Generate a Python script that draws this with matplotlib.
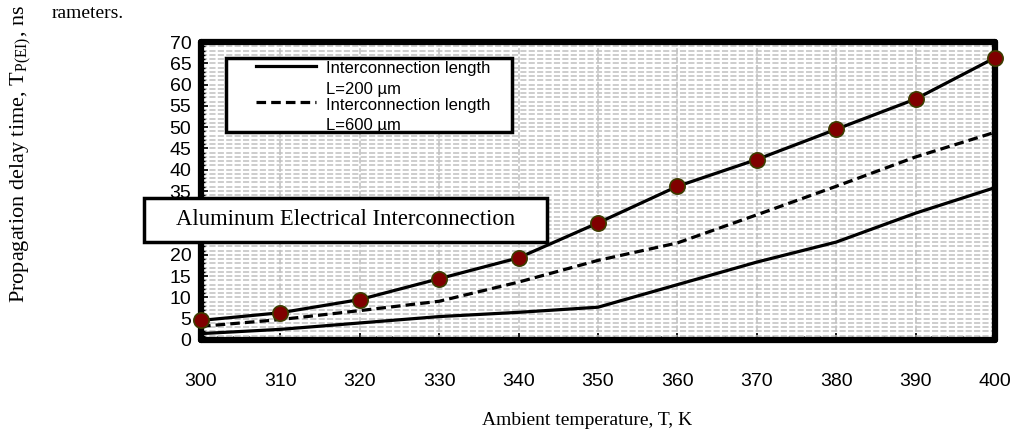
import numpy as np
import matplotlib.pyplot as plt
from matplotlib.ticker import MultipleLocator
from matplotlib.patches import Rectangle
from matplotlib.legend_handler import HandlerLine2D

# temperatures (K) and delay times (ns)
temp = [300, 310, 320, 330, 340, 350, 360, 370, 380, 390, 400]
t_200 = [1.5, 2.5, 4.0, 5.5, 6.5, 7.7, 13.0, 18.3, 23.0, 29.8, 35.8]
t_600 = [3.2, 4.8, 6.9, 9.1, 13.6, 18.7, 22.8, 29.4, 36.1, 43.0, 48.8]
t_ref = [4.6, 6.4, 9.5, 14.4, 19.3, 27.5, 36.1, 42.4, 49.5, 56.6, 66.3]
hidden_yticks = [25, 30]  # sit under the text box in the original

plt.rcParams['font.family'] = ['Liberation Sans', 'DejaVu Sans']
plt.rcParams['mathtext.fontset'] = 'stix'
serif = ['Liberation Serif', 'DejaVu Serif']


class HandlerUp(HandlerLine2D):
    # legend line sits level with the first text line, not centred
    def create_artists(self, legend, orig_handle, xdescent, ydescent,
                       width, height, fontsize, trans):
        return super().create_artists(legend, orig_handle, xdescent, ydescent - 19,
                                      width, height, fontsize, trans)


fig = plt.figure(figsize=(10.13, 4.34), dpi=100)
ax = fig.add_axes([0.1984, 0.2166, 0.7838, 0.6866])

ax.set_xlim(300, 400)
ax.set_ylim(0, 70)
ax.xaxis.set_major_locator(MultipleLocator(10))
ax.xaxis.set_minor_locator(MultipleLocator(2))
ax.yaxis.set_major_locator(MultipleLocator(5))
ax.yaxis.set_minor_locator(MultipleLocator(1))
ax.yaxis.set_major_formatter(lambda v, pos: '' if v in hidden_yticks else f'{v:g}')

gstyle = dict(color='#c0c0c0', ls=(0, (4, 1.5)), lw=1.1)
ax.grid(True, which='minor', axis='y', **gstyle)
ax.grid(True, which='major', axis='y', **gstyle)
ax.grid(True, which='major', axis='x', **gstyle)
ax.set_axisbelow(True)

for s in ax.spines.values():
    s.set_linewidth(4.5)
    s.set_capstyle('round')

ax.tick_params(which='both', direction='in', top=False, right=False)
ax.tick_params(which='major', length=5, width=1.2)
ax.tick_params(which='minor', length=3, width=1.0)
ax.tick_params(axis='x', which='major', pad=24, labelsize=14)
ax.tick_params(axis='y', which='major', pad=7, labelsize=14)

l1, = ax.plot(temp, t_200, color='black', lw=2.3, label='Interconnection length\nL=200 \u00b5m')
l2, = ax.plot(temp, t_600, color='black', lw=2.3, ls=(0, (3, 1.6)),
              label='Interconnection length\nL=600 \u00b5m')
ax.plot(temp, t_ref, color='black', lw=2.3, marker='o', ms=11,
        markerfacecolor='#800000', markeredgecolor='#3d3d00', markeredgewidth=1.2,
        clip_on=False, zorder=5)

# legend frame drawn separately so the padding can be uneven
ax.add_patch(Rectangle((0.0315, 0.698), 0.360, 0.248, transform=ax.transAxes,
                       facecolor='white', edgecolor='black', lw=2.5, zorder=6))
hl = HandlerUp()
leg = ax.legend(handles=[l1, l2], loc='upper left', bbox_to_anchor=(0.069, 0.935),
                fontsize=12, frameon=False, handlelength=3.6,
                handletextpad=0.6, borderpad=0, labelspacing=0.05,
                borderaxespad=0, handler_map={l1: hl, l2: hl})
for t in leg.get_texts():
    t.set_linespacing(1.45)
leg.set_zorder(7)

fig.text(0.5795, 0.030, 'Ambient temperature, T, K', family=serif, fontsize=14,
         ha='center', va='center')
fig.text(0.020, 0.645, r'Propagation delay time, T$_{\mathregular{P(EI)}}$, ns',
         family=serif, fontsize=16, rotation=90, ha='center', va='center')
fig.text(0.051, 0.970, 'rameters.', family=serif, fontsize=14, ha='left', va='center')

fig.patches.append(Rectangle((0.1422, 0.4424), 0.3978, 0.1014, transform=fig.transFigure,
                             facecolor='white', edgecolor='black', lw=2.5, zorder=9))
fig.text(0.3411, 0.4931, 'Aluminum Electrical Interconnection', family=serif, fontsize=16.3,
         ha='center', va='center', zorder=10)

fig.savefig('out.png', dpi=100)
